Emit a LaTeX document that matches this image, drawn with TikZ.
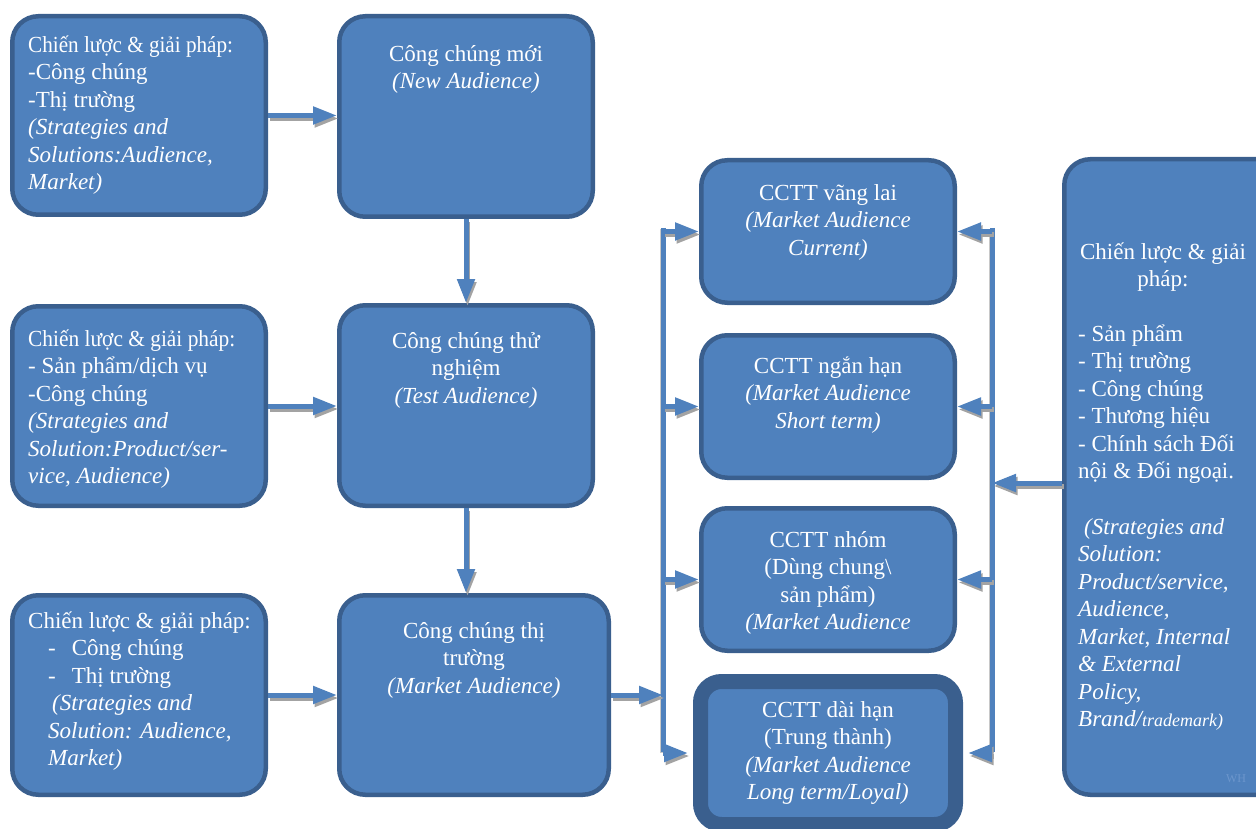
\documentclass[tikz,border=0pt]{standalone}
\usepackage{fontspec}
\usepackage{graphicx}
\setmainfont{LiberationSerif}[Extension=.ttf,UprightFont=*-Regular,ItalicFont=*-Italic,BoldFont=*-Bold,BoldItalicFont=*-BoldItalic]
\usetikzlibrary{arrows.meta}
\definecolor{boxfill}{HTML}{4F81BD}
\definecolor{boxline}{HTML}{3A5F8E}
\definecolor{shadowgray}{HTML}{A3A3A3}
\definecolor{wmark}{HTML}{6C96CC}
\newcommand{\fs}{\rule{0pt}{24pt}}
\begin{document}
\begin{tikzpicture}[x=1pt,y=-1pt,
  box/.style={draw=boxline, fill=boxfill, line width=4.5pt, rounded corners=26pt, inner sep=0pt},
  thickbox/.style={draw=boxline, fill=boxfill, line width=15pt, rounded corners=21pt, inner sep=0pt},
  txt/.style={text=white, inner sep=0pt, font=\fontsize{23}{27.5}\selectfont},
  itxt/.style={text=white, inner sep=0pt, font=\fontsize{23}{27.5}\selectfont\itshape},
  tip/.style={-{Triangle[length=24pt,width=17pt]}},
  conn/.style={draw=boxfill, line width=5pt, tip,
     preaction={draw=shadowgray, line width=5pt, tip, transform canvas={shift={(1.5pt,-3pt)}}}},
  bus/.style={draw=boxfill, line width=5pt,
     preaction={draw=shadowgray!60, line width=5pt, transform canvas={shift={(-1pt,-1pt)}}}}
]
\useasboundingbox (0,0) rectangle (1256,829);
\clip (0,0) rectangle (1256,829);

% boxes
\node[box, minimum width=253.5pt, minimum height=198.5pt] (L1) at (139,115.5) {};
\node[box, minimum width=253.5pt, minimum height=199.5pt] (L2) at (139,406) {};
\node[box, minimum width=253.5pt, minimum height=199.5pt] (L3) at (139,695) {};
\node[box, minimum width=253.5pt, minimum height=200.5pt] (C1) at (466,116.5) {};
\node[box, minimum width=253.5pt, minimum height=200.5pt] (C2) at (466,405.5) {};
\node[box, minimum width=269.5pt, minimum height=199.5pt] (C3) at (474,695) {};
\node[box, minimum width=253.5pt, minimum height=142.5pt] (R1) at (828,231.5) {};
\node[box, minimum width=253.5pt, minimum height=142.5pt] (R2) at (828,406.5) {};
\node[box, minimum width=253.5pt, minimum height=142.5pt] (R3) at (828,579.5) {};
\node[thickbox, minimum width=255pt, minimum height=143pt] (R4) at (828,753) {};
\node[box, minimum width=233.5pt, minimum height=635.5pt] (RR) at (1181,477) {};

% texts
\node[txt, anchor=north west, align=left] (tL1) at (28,28)
  {\fs\scalebox{0.92}[1]{Chiến lược \& giải pháp:}\\-Công chúng\\-Thị trường\\\textit{(Strategies and}\\\textit{Solutions:Audience,}\\\textit{Market)}};
\node[txt, anchor=north west, align=left] (tL2) at (28,322)
  {\fs\scalebox{0.93}[1]{Chiến lược \& giải pháp:}\\- Sản phẩm/dịch vụ\\-Công chúng\\\textit{(Strategies and}\\\textit{Solution:Product/ser-}\\\textit{vice, Audience)}};
\node[txt, anchor=north west, align=left] (tL3) at (28,604)
  {\fs Chiến lược \& giải pháp:\\\hspace*{20pt}-\hspace*{16pt}Công chúng\\\hspace*{20pt}-\hspace*{16pt}Thị trường\\\hspace*{24pt}\textit{(Strategies and}\\\hspace*{20pt}\textit{Solution: Audience,}\\\hspace*{20pt}\textit{Market)}};

\node[txt, anchor=north, align=center] (tC1) at (466,37)
  {\fs Công chúng mới\\\textit{(New Audience)}};
\node[txt, anchor=north, align=center] (tC2) at (466,324)
  {\fs Công chúng thử\\nghiệm\\\textit{(Test Audience)}};
\node[txt, anchor=north, align=center] (tC3) at (474,614)
  {\fs Công chúng thị\\trường\\\textit{(Market Audience)}};

\node[txt, anchor=north, align=center] (tR1) at (828,176)
  {\fs CCTT vãng lai\\\textit{(Market Audience}\\\textit{Current)}};
\node[txt, anchor=north, align=center] (tR2) at (828,349)
  {\fs CCTT ngắn hạn\\\textit{(Market Audience}\\\textit{Short term)}};
\node[txt, anchor=north, align=center] (tR3) at (828,523)
  {\fs CCTT nhóm\\(Dùng chung\textbackslash\\sản phẩm)\\\textit{(Market Audience}};
\node[txt, anchor=north, align=center] (tR4) at (828,693)
  {\fs CCTT dài hạn\\(Trung thành)\\\textit{(Market Audience}\\\textit{Long term/Loyal)}};

\node[txt, anchor=north, align=center] (tRR1) at (1163,235)
  {\fs Chiến lược \& giải\\pháp:};
\node[txt, anchor=north west, align=left] (tRR2) at (1078,317)
  {\fs - Sản phẩm\\- Thị trường\\- Công chúng\\- Thương hiệu\\- Chính sách Đối\\nội \& Đối ngoại.};
\node[itxt, anchor=north west, align=left] (tRR3) at (1078,510)
  {\fs\hspace*{6pt}(Strategies and\\Solution:\\Product/service,\\Audience,\\Market, Internal\\\& External\\Policy,\\Brand/{\fontsize{18}{27.5}\selectfont trademark)}};
\node[text=wmark, inner sep=0pt, font=\fontsize{12}{12}\selectfont] (wm) at (1236,779) {WH};

% connectors
\draw[conn] (L1.east) -- (L1.east -| C1.west);
\draw[conn] (L2.east) -- (L2.east -| C2.west);
\draw[conn] (L3.east) -- (L3.east -| C3.west);
\draw[conn] (C1.south) -- (C2.north);
\draw[conn] (C2.south) -- (C2.south |- C3.north);

\coordinate (busL) at (663,695);
\coordinate (busR) at (992,483);
\coordinate (busLtop) at (663,228);
\coordinate (busLbot) at (663,752);
\coordinate (busRtop) at (992,228);
\coordinate (busRbot) at (992,752);
\draw[bus] (busLtop) -- (busLbot);
\draw[bus] (busRtop) -- (busRbot);
\draw[conn] (C3.east) -- (busL);
\draw[conn] (R1.west -| busL) -- (R1.west);
\draw[conn] (R2.west -| busL) -- (R2.west);
\draw[conn] (R3.west -| busL) -- (R3.west);
\draw[conn] (R4.west -| busL) -- ([xshift=-5pt]R4.west);
\draw[conn] (busR -| RR.west) -- (busR);
\draw[conn] (R1.east -| busR) -- (R1.east);
\draw[conn] (R2.east -| busR) -- (R2.east);
\draw[conn] (R3.east -| busR) -- (R3.east);
\draw[conn] (R4.east -| busR) -- ([xshift=5pt]R4.east);
\end{tikzpicture}
\end{document}
